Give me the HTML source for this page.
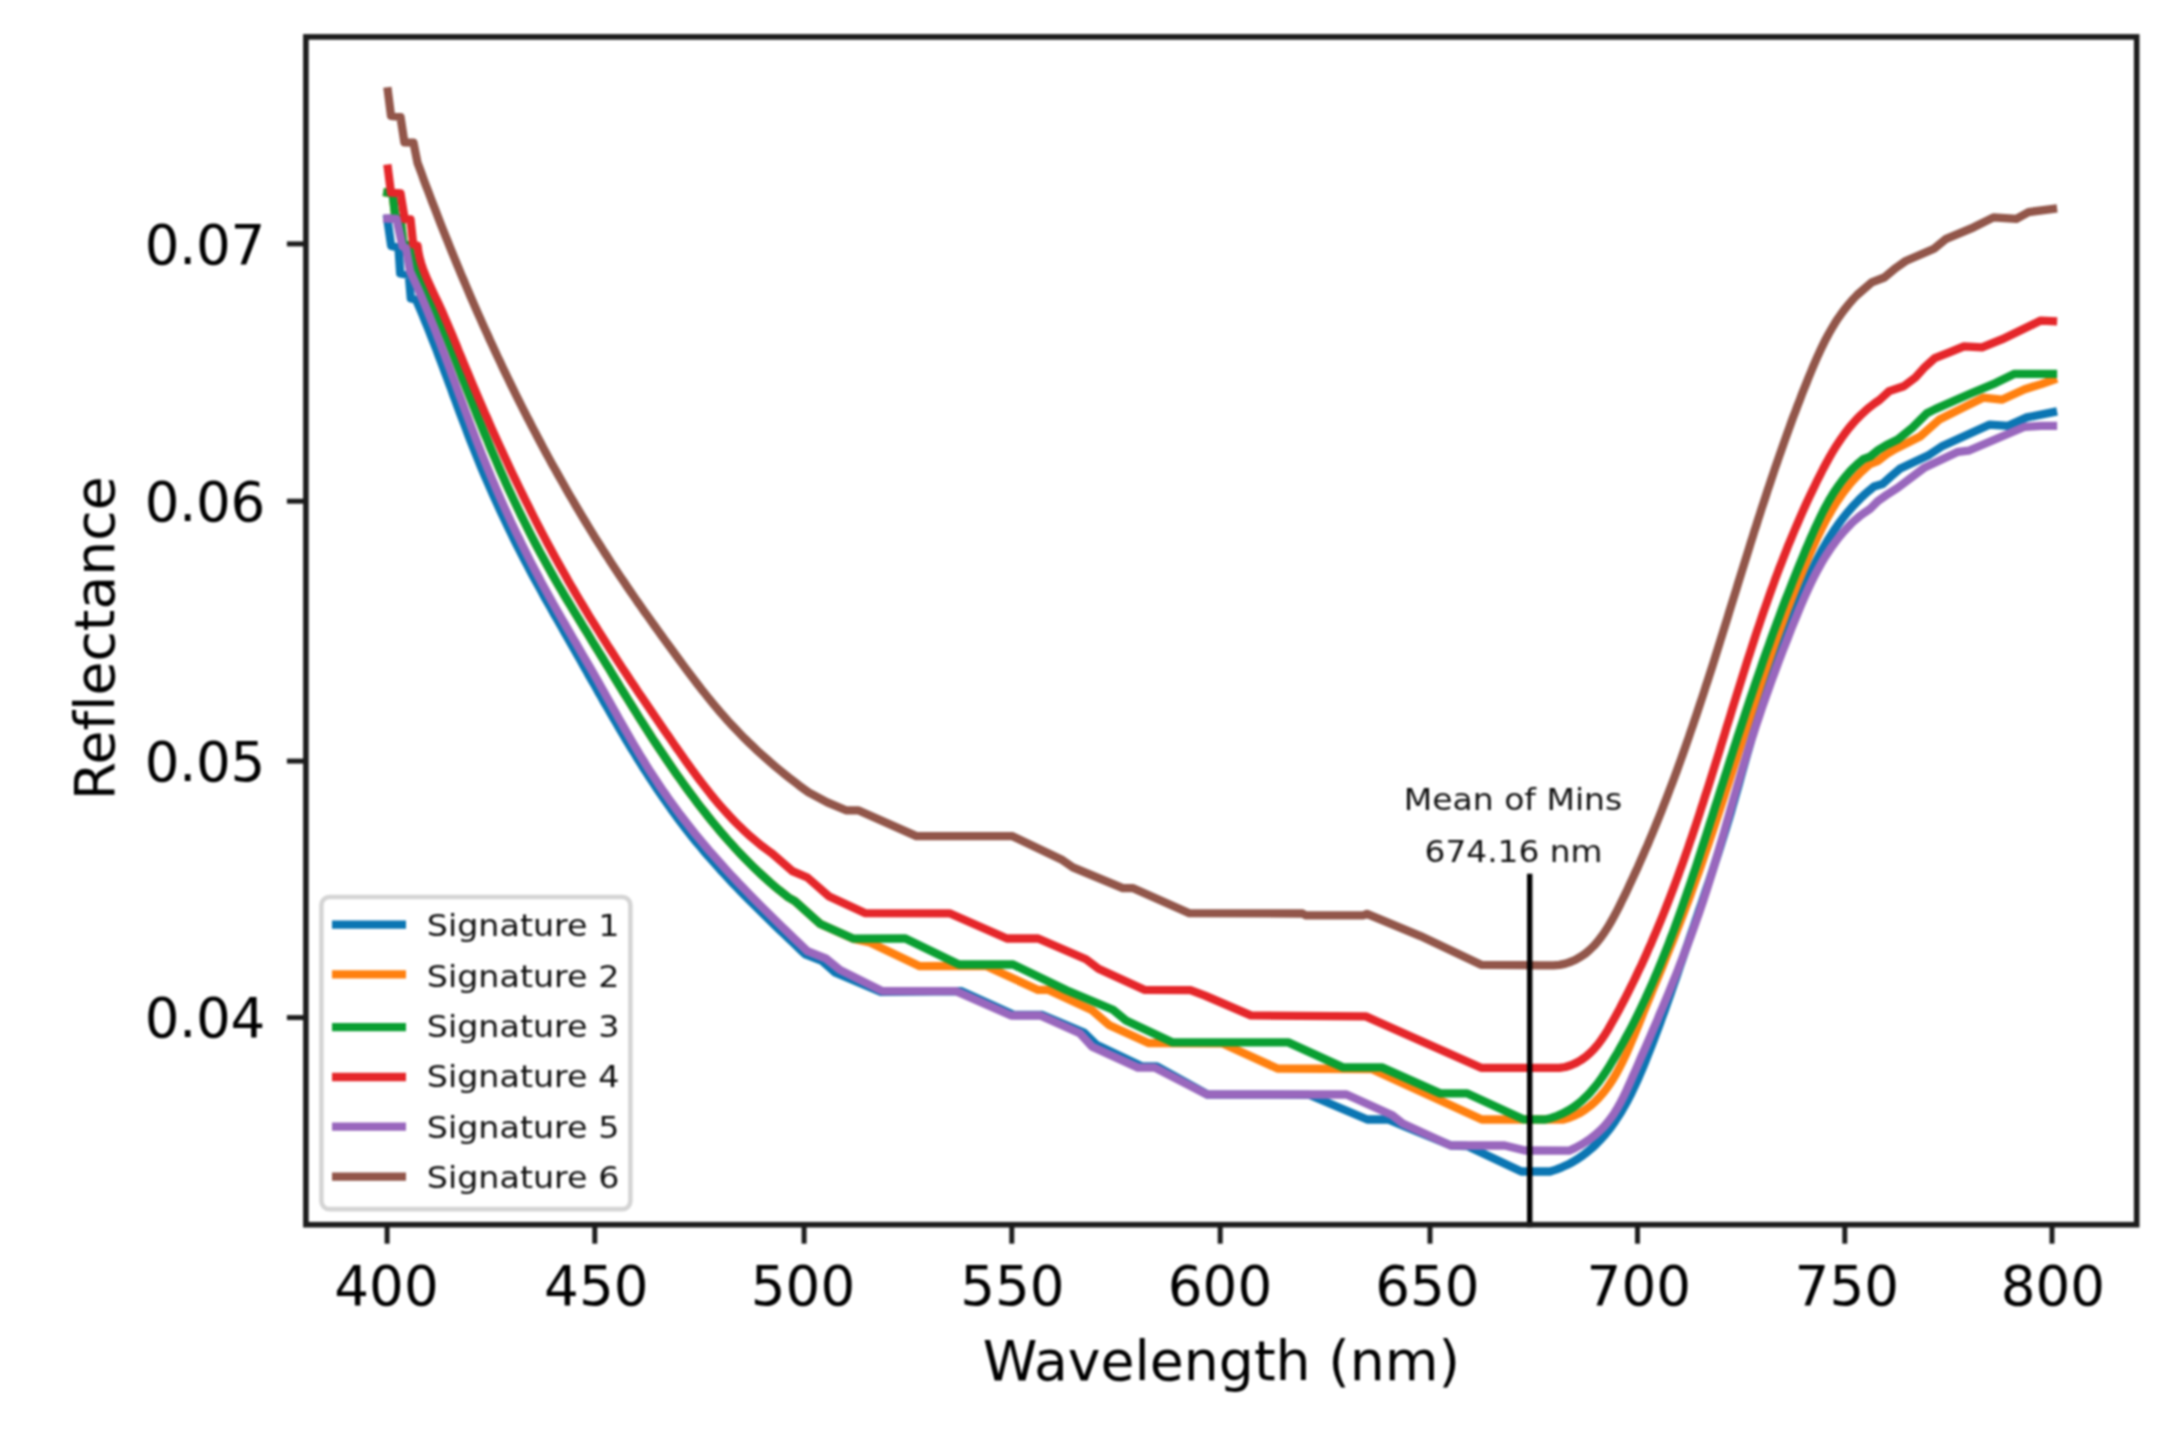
<!DOCTYPE html>
<html><head><meta charset="utf-8"><title>Reflectance signatures</title>
<style>html,body{margin:0;padding:0;background:#fff}svg text{font-family:"DejaVu Sans","Liberation Sans",sans-serif;font-variant-ligatures:none;font-feature-settings:'liga' 0,'clig' 0}</style>
</head><body>
<svg width="2178" height="1441" viewBox="0 0 2178 1441" style="display:block;filter:blur(0.9px)">
<rect width="2178" height="1441" fill="#fff"/>
<g fill="none" stroke-width="8.3" stroke-linecap="square" stroke-linejoin="round">
<polyline stroke="#0b76b3" points="387.3,219.0 391.2,246.0 398.5,247.5 400.2,273.5 408.8,275.0 410.8,298.5 416.0,299.5 418.4,305.0 420.7,310.5 423.1,316.1 425.3,321.6 427.6,327.2 429.8,332.8 432.0,338.4 434.2,344.0 436.4,349.6 438.5,355.2 440.7,360.9 442.8,366.5 444.9,372.2 447.0,377.8 449.1,383.5 451.2,389.1 453.2,394.8 455.3,400.4 457.4,406.1 459.5,411.7 461.6,417.3 463.8,423.0 465.9,428.6 468.0,434.2 470.2,439.9 472.4,445.5 474.6,451.1 476.9,456.7 479.1,462.2 481.4,467.8 483.7,473.3 486.1,478.9 488.5,484.4 490.9,489.9 493.3,495.4 495.8,500.9 498.3,506.4 500.8,511.8 503.4,517.3 506.0,522.7 508.6,528.1 511.2,533.5 513.8,538.9 516.5,544.3 519.2,549.6 522.0,555.0 524.7,560.3 527.5,565.7 530.3,571.0 533.1,576.3 536.0,581.6 538.9,586.8 541.8,592.1 544.7,597.4 547.6,602.6 550.6,607.8 553.5,613.1 556.5,618.3 559.5,623.5 562.5,628.7 565.4,634.0 568.4,639.2 571.4,644.4 574.4,649.6 577.4,654.9 580.3,660.1 583.3,665.4 586.3,670.6 589.2,675.9 592.2,681.1 595.2,686.3 598.1,691.6 601.1,696.8 604.1,702.1 607.1,707.3 610.1,712.5 613.1,717.7 616.2,722.9 619.2,728.1 622.3,733.3 625.3,738.5 628.4,743.6 631.5,748.8 634.7,753.9 637.8,759.0 641.0,764.1 644.2,769.2 647.5,774.2 650.7,779.3 654.0,784.3 657.4,789.3 660.7,794.2 664.1,799.2 667.6,804.1 671.0,809.0 674.5,813.8 678.1,818.7 681.7,823.5 685.3,828.2 689.0,832.9 692.7,837.6 696.5,842.3 700.4,846.9 704.2,851.5 708.1,856.1 712.1,860.6 716.1,865.1 720.1,869.6 724.2,874.0 728.3,878.4 732.4,882.8 736.6,887.2 740.8,891.5 745.0,895.8 749.2,900.1 753.5,904.4 757.8,908.6 762.1,912.9 766.4,917.1 770.7,921.3 775.0,925.5 779.4,929.7 783.7,933.8 788.1,938.0 792.4,942.1 796.8,946.3 801.1,950.4 805.5,954.5 822.0,961.0 835.0,972.5 881.0,991.8 961.0,991.1 1014.2,1015.0 1042.3,1015.0 1083.9,1032.5 1096.4,1044.7 1142.2,1066.5 1156.8,1066.5 1207.5,1094.5 1309.1,1094.8 1367.3,1119.5 1388.2,1119.5 1404.8,1126.5 1451.0,1145.5 1467.3,1146.0 1521.4,1171.5 1550.0,1171.5 1556.0,1169.6 1561.8,1167.3 1567.4,1164.8 1572.7,1162.0 1577.8,1158.9 1582.7,1155.5 1587.4,1151.9 1591.9,1148.1 1596.2,1144.1 1600.3,1139.9 1604.3,1135.5 1608.1,1130.9 1611.7,1126.2 1615.1,1121.3 1618.4,1116.3 1621.6,1111.2 1624.6,1106.0 1627.5,1100.7 1630.3,1095.4 1632.9,1089.9 1635.5,1084.5 1638.0,1079.0 1640.4,1073.4 1642.8,1067.8 1645.1,1062.2 1647.3,1056.6 1649.5,1051.0 1651.7,1045.4 1653.9,1039.7 1656.0,1034.1 1658.1,1028.5 1660.2,1022.8 1662.2,1017.2 1664.3,1011.5 1666.3,1005.9 1668.3,1000.2 1670.3,994.6 1672.2,988.9 1674.2,983.2 1676.2,977.6 1678.1,971.9 1680.0,966.2 1682.0,960.6 1683.9,954.9 1685.8,949.2 1687.8,943.5 1689.7,937.9 1691.6,932.2 1693.6,926.5 1695.5,920.8 1697.5,915.1 1699.4,909.4 1701.4,903.8 1703.3,898.1 1705.2,892.4 1707.1,886.7 1709.1,881.0 1711.0,875.3 1712.9,869.5 1714.7,863.8 1716.6,858.1 1718.5,852.4 1720.3,846.7 1722.1,840.9 1723.9,835.2 1725.7,829.4 1727.4,823.7 1729.2,817.9 1730.9,812.2 1732.5,806.4 1734.2,800.6 1735.8,794.8 1737.5,789.1 1739.1,783.3 1740.7,777.5 1742.3,771.7 1743.9,765.9 1745.5,760.1 1747.1,754.4 1748.8,748.6 1750.4,742.8 1752.0,737.0 1753.7,731.3 1755.3,725.5 1757.0,719.8 1758.7,714.0 1760.5,708.3 1762.2,702.6 1764.0,696.8 1765.9,691.1 1767.7,685.4 1769.6,679.8 1771.5,674.1 1773.5,668.4 1775.5,662.7 1777.5,657.1 1779.5,651.4 1781.6,645.7 1783.6,640.1 1785.7,634.4 1787.9,628.8 1790.0,623.1 1792.1,617.4 1794.3,611.8 1796.5,606.1 1798.8,600.5 1801.1,594.9 1803.4,589.2 1805.8,583.7 1808.2,578.1 1810.7,572.6 1813.3,567.2 1815.9,561.8 1818.7,556.4 1821.5,551.1 1824.4,545.9 1827.4,540.7 1830.6,535.7 1833.8,530.7 1837.2,525.8 1840.7,521.0 1844.3,516.3 1848.1,511.7 1852.0,507.2 1856.1,502.8 1860.3,498.5 1864.7,494.4 1869.3,490.4 1874.0,486.6 1882.4,484.1 1890.7,476.6 1899.8,468.8 1929.0,454.9 1941.5,446.6 1989.3,424.7 2008.1,425.8 2026.8,417.4 2053.0,412.2"/>
<polyline stroke="#ff800f" points="387.3,192.7 392.6,193.6 395.2,216.3 400.5,219.0 403.3,243.0 408.5,245.5 412.5,262.0 415.3,267.3 418.0,272.7 420.7,278.0 423.3,283.4 425.9,288.8 428.4,294.3 430.9,299.7 433.3,305.2 435.7,310.7 438.0,316.2 440.4,321.8 442.6,327.3 444.9,332.9 447.2,338.4 449.4,344.0 451.6,349.6 453.8,355.2 455.9,360.8 458.1,366.4 460.3,372.0 462.4,377.7 464.6,383.3 466.8,388.9 469.0,394.5 471.2,400.1 473.4,405.7 475.6,411.3 477.8,416.9 480.1,422.5 482.4,428.1 484.6,433.7 487.0,439.2 489.3,444.8 491.6,450.3 494.0,455.9 496.4,461.4 498.8,467.0 501.2,472.5 503.7,478.0 506.1,483.5 508.6,488.9 511.2,494.4 513.7,499.9 516.3,505.3 518.9,510.7 521.5,516.1 524.2,521.5 526.9,526.9 529.6,532.3 532.3,537.6 535.1,543.0 537.9,548.3 540.7,553.6 543.6,558.8 546.5,564.1 549.4,569.3 552.4,574.6 555.3,579.8 558.3,585.0 561.4,590.2 564.4,595.3 567.5,600.5 570.6,605.6 573.7,610.8 576.8,615.9 579.9,621.0 583.0,626.2 586.2,631.3 589.3,636.4 592.4,641.6 595.6,646.7 598.7,651.8 601.9,657.0 605.0,662.1 608.2,667.2 611.3,672.4 614.4,677.5 617.6,682.7 620.7,687.8 623.9,693.0 627.1,698.1 630.2,703.2 633.4,708.3 636.6,713.4 639.8,718.6 643.0,723.6 646.3,728.7 649.5,733.8 652.8,738.9 656.1,743.9 659.4,748.9 662.8,753.9 666.1,758.9 669.5,763.9 672.9,768.9 676.3,773.8 679.8,778.7 683.3,783.6 686.8,788.5 690.3,793.3 693.9,798.1 697.5,802.9 701.2,807.7 704.9,812.4 708.6,817.1 712.4,821.8 716.2,826.4 720.0,831.0 723.9,835.5 727.9,840.1 731.9,844.5 735.9,849.0 740.0,853.3 744.1,857.6 748.3,861.9 752.5,866.1 756.8,870.3 761.2,874.4 765.6,878.4 770.0,882.4 774.6,886.3 779.1,890.1 783.8,893.8 788.5,897.5 794.9,901.2 819.9,923.7 853.6,939.0 869.9,942.4 919.8,966.2 986.1,966.0 1038.1,989.9 1048.5,989.9 1092.2,1010.3 1108.9,1024.9 1148.4,1043.0 1222.0,1043.3 1277.5,1068.5 1371.5,1069.0 1481.8,1119.5 1563.3,1119.5 1569.4,1117.7 1575.1,1115.4 1580.4,1112.7 1585.4,1109.5 1590.1,1106.0 1594.6,1102.2 1598.7,1098.0 1602.6,1093.6 1606.3,1089.0 1609.7,1084.1 1613.0,1079.1 1616.1,1073.9 1619.0,1068.6 1621.8,1063.2 1624.4,1057.8 1627.0,1052.2 1629.4,1046.7 1631.8,1041.0 1634.2,1035.4 1636.5,1029.7 1638.8,1024.1 1641.1,1018.5 1643.3,1012.8 1645.6,1007.2 1647.9,1001.7 1650.2,996.1 1652.5,990.5 1654.8,985.0 1657.1,979.4 1659.4,973.8 1661.7,968.3 1664.0,962.7 1666.2,957.1 1668.5,951.5 1670.7,945.9 1673.0,940.3 1675.2,934.7 1677.4,929.1 1679.6,923.4 1681.8,917.8 1683.9,912.2 1686.0,906.5 1688.2,900.9 1690.3,895.2 1692.3,889.6 1694.4,883.9 1696.4,878.2 1698.5,872.5 1700.5,866.8 1702.5,861.1 1704.4,855.4 1706.4,849.7 1708.4,844.0 1710.3,838.3 1712.2,832.6 1714.1,826.9 1716.0,821.2 1717.9,815.4 1719.8,809.7 1721.7,804.0 1723.6,798.2 1725.4,792.5 1727.3,786.8 1729.2,781.0 1731.0,775.3 1732.9,769.5 1734.7,763.8 1736.6,758.1 1738.4,752.3 1740.3,746.6 1742.2,740.8 1744.0,735.1 1745.9,729.3 1747.8,723.6 1749.6,717.9 1751.5,712.1 1753.4,706.4 1755.3,700.6 1757.2,694.9 1759.1,689.2 1761.0,683.5 1763.0,677.7 1764.9,672.0 1766.9,666.3 1768.9,660.6 1770.9,654.9 1772.9,649.2 1774.9,643.5 1776.9,637.8 1779.0,632.1 1781.1,626.4 1783.2,620.7 1785.3,615.1 1787.4,609.4 1789.6,603.8 1791.8,598.1 1794.0,592.5 1796.2,586.8 1798.5,581.2 1800.8,575.6 1803.1,570.0 1805.5,564.4 1807.8,558.8 1810.2,553.2 1812.7,547.6 1815.2,542.1 1817.7,536.6 1820.4,531.1 1823.1,525.7 1825.9,520.4 1828.8,515.1 1831.8,509.9 1834.9,504.8 1838.2,499.8 1841.6,494.9 1845.1,490.1 1848.8,485.4 1852.6,480.9 1856.7,476.5 1860.9,472.2 1865.3,468.1 1869.9,464.1 1878.2,460.8 1886.5,454.2 1895.7,448.7 1920.6,436.2 1939.4,419.5 1960.2,409.1 1983.1,397.7 2001.8,399.7 2024.7,389.3 2041.4,384.1 2053.0,379.9"/>
<polyline stroke="#0a9f32" points="387.3,192.7 392.6,193.6 395.2,216.3 400.5,219.0 403.3,243.0 408.5,245.5 412.5,262.0 415.3,267.3 418.0,272.7 420.7,278.0 423.3,283.4 425.9,288.8 428.4,294.3 430.9,299.7 433.3,305.2 435.7,310.7 438.0,316.2 440.4,321.8 442.6,327.3 444.9,332.9 447.2,338.4 449.4,344.0 451.6,349.6 453.8,355.2 455.9,360.8 458.1,366.4 460.3,372.0 462.4,377.7 464.6,383.3 466.8,388.9 469.0,394.5 471.2,400.1 473.4,405.7 475.6,411.3 477.8,416.9 480.1,422.5 482.4,428.1 484.6,433.7 487.0,439.2 489.3,444.8 491.6,450.3 494.0,455.9 496.4,461.4 498.8,467.0 501.2,472.5 503.7,478.0 506.1,483.5 508.6,488.9 511.2,494.4 513.7,499.9 516.3,505.3 518.9,510.7 521.5,516.1 524.2,521.5 526.9,526.9 529.6,532.3 532.3,537.6 535.1,543.0 537.9,548.3 540.7,553.6 543.6,558.8 546.5,564.1 549.4,569.3 552.4,574.6 555.3,579.8 558.3,585.0 561.4,590.2 564.4,595.3 567.5,600.5 570.6,605.6 573.7,610.8 576.8,615.9 579.9,621.0 583.0,626.2 586.2,631.3 589.3,636.4 592.4,641.6 595.6,646.7 598.7,651.8 601.9,657.0 605.0,662.1 608.2,667.2 611.3,672.4 614.4,677.5 617.6,682.7 620.7,687.8 623.9,693.0 627.1,698.1 630.2,703.2 633.4,708.3 636.6,713.4 639.8,718.6 643.0,723.6 646.3,728.7 649.5,733.8 652.8,738.9 656.1,743.9 659.4,748.9 662.8,753.9 666.1,758.9 669.5,763.9 672.9,768.9 676.3,773.8 679.8,778.7 683.3,783.6 686.8,788.5 690.3,793.3 693.9,798.1 697.5,802.9 701.2,807.7 704.9,812.4 708.6,817.1 712.4,821.8 716.2,826.4 720.0,831.0 723.9,835.5 727.9,840.1 731.9,844.5 735.9,849.0 740.0,853.3 744.1,857.6 748.3,861.9 752.5,866.1 756.8,870.3 761.2,874.4 765.6,878.4 770.0,882.4 774.6,886.3 779.1,890.1 783.8,893.8 788.5,897.5 794.9,901.2 819.9,923.7 853.6,938.7 904.8,938.3 959.0,964.5 1013.1,964.5 1066.6,990.2 1113.0,1009.8 1126.0,1020.5 1172.8,1042.4 1288.2,1042.4 1343.0,1067.4 1381.9,1067.4 1440.2,1093.4 1467.3,1093.4 1523.3,1119.3 1545.0,1119.5 1551.3,1117.9 1557.3,1115.8 1562.9,1113.4 1568.2,1110.5 1573.3,1107.4 1578.0,1103.9 1582.5,1100.1 1586.7,1096.1 1590.7,1091.8 1594.6,1087.3 1598.2,1082.7 1601.7,1077.9 1605.1,1072.9 1608.4,1067.9 1611.5,1062.7 1614.6,1057.5 1617.7,1052.3 1620.6,1047.1 1623.6,1041.8 1626.4,1036.5 1629.3,1031.2 1632.1,1025.9 1634.8,1020.5 1637.5,1015.1 1640.1,1009.7 1642.7,1004.2 1645.3,998.8 1647.8,993.3 1650.3,987.8 1652.7,982.3 1655.1,976.7 1657.5,971.2 1659.8,965.6 1662.1,960.0 1664.3,954.4 1666.6,948.8 1668.8,943.2 1670.9,937.5 1673.1,931.9 1675.2,926.2 1677.3,920.5 1679.4,914.8 1681.4,909.1 1683.4,903.4 1685.4,897.7 1687.4,891.9 1689.4,886.2 1691.3,880.5 1693.2,874.7 1695.2,869.0 1697.1,863.2 1699.0,857.4 1700.8,851.7 1702.7,845.9 1704.6,840.1 1706.4,834.4 1708.3,828.6 1710.1,822.8 1712.0,817.1 1713.8,811.3 1715.6,805.5 1717.5,799.8 1719.3,794.0 1721.1,788.3 1723.0,782.5 1724.8,776.8 1726.7,771.0 1728.5,765.3 1730.3,759.5 1732.2,753.8 1734.0,748.1 1735.9,742.3 1737.7,736.6 1739.6,730.9 1741.5,725.1 1743.4,719.4 1745.2,713.7 1747.1,708.0 1749.0,702.3 1750.9,696.6 1752.9,690.8 1754.8,685.1 1756.7,679.5 1758.7,673.8 1760.7,668.1 1762.6,662.4 1764.6,656.7 1766.6,651.0 1768.7,645.4 1770.7,639.7 1772.7,634.0 1774.8,628.4 1776.9,622.7 1779.0,617.1 1781.1,611.4 1783.2,605.8 1785.4,600.1 1787.6,594.5 1789.8,588.9 1792.0,583.3 1794.2,577.7 1796.5,572.0 1798.8,566.4 1801.1,560.8 1803.4,555.3 1805.7,549.7 1808.1,544.1 1810.5,538.5 1813.0,532.9 1815.4,527.4 1818.0,521.9 1820.6,516.4 1823.3,511.0 1826.1,505.7 1829.0,500.5 1832.1,495.3 1835.3,490.3 1838.7,485.4 1842.2,480.6 1846.0,476.0 1849.9,471.5 1854.1,467.2 1858.5,463.1 1863.2,459.2 1869.9,456.7 1878.2,450.0 1886.5,445.0 1897.8,439.5 1912.3,427.8 1926.9,413.3 1935.2,409.1 1970.6,393.5 1995.6,383.1 2014.6,373.8 2053.0,373.8"/>
<polyline stroke="#e5262a" points="387.9,168.7 391.0,192.7 400.5,193.4 404.7,219.0 410.5,219.3 413.2,244.5 417.5,245.5 418.3,251.5 419.5,257.4 421.1,263.2 423.0,268.9 425.2,274.5 427.5,280.0 430.0,285.5 432.5,290.9 435.1,296.4 437.7,301.8 440.2,307.3 442.7,312.8 445.1,318.3 447.5,323.8 449.8,329.4 452.2,334.9 454.5,340.5 456.8,346.1 459.0,351.7 461.3,357.2 463.6,362.8 465.9,368.4 468.3,373.9 470.6,379.5 472.9,385.1 475.3,390.6 477.6,396.2 480.0,401.7 482.4,407.2 484.8,412.8 487.3,418.3 489.7,423.8 492.1,429.3 494.6,434.9 497.1,440.4 499.6,445.9 502.1,451.3 504.6,456.8 507.2,462.3 509.7,467.8 512.3,473.2 514.9,478.6 517.5,484.1 520.2,489.5 522.8,494.9 525.5,500.3 528.2,505.7 530.9,511.1 533.6,516.5 536.3,521.9 539.1,527.2 541.9,532.6 544.7,537.9 547.5,543.2 550.4,548.5 553.2,553.8 556.1,559.1 559.1,564.4 562.0,569.6 565.0,574.8 567.9,580.1 570.9,585.3 574.0,590.5 577.0,595.7 580.1,600.8 583.2,606.0 586.3,611.2 589.4,616.3 592.6,621.4 595.8,626.5 599.0,631.6 602.2,636.7 605.4,641.8 608.6,646.9 611.9,651.9 615.2,657.0 618.4,662.0 621.7,667.1 625.1,672.1 628.4,677.1 631.7,682.2 635.1,687.2 638.4,692.2 641.8,697.2 645.2,702.2 648.6,707.2 652.0,712.2 655.4,717.1 658.8,722.1 662.2,727.1 665.6,732.1 669.1,737.0 672.5,742.0 675.9,747.0 679.4,751.9 682.9,756.9 686.3,761.8 689.9,766.7 693.4,771.6 697.0,776.4 700.6,781.3 704.3,786.0 708.0,790.8 711.7,795.5 715.5,800.1 719.4,804.7 723.4,809.2 727.4,813.6 731.4,818.0 735.6,822.3 739.9,826.6 744.2,830.7 748.6,834.8 753.1,838.7 757.8,842.6 762.5,846.4 767.3,850.0 772.3,853.6 792.4,871.2 807.4,877.5 828.7,896.2 864.9,913.1 949.5,913.3 1006.9,938.5 1038.1,938.5 1086.0,959.3 1098.5,968.7 1144.3,989.8 1190.4,990.2 1205.0,995.6 1250.8,1015.4 1365.8,1016.4 1481.1,1067.8 1540.0,1067.9 1546.7,1067.9 1553.2,1067.9 1559.4,1067.9 1565.3,1067.0 1570.9,1065.2 1576.2,1062.9 1581.2,1060.0 1585.9,1056.7 1590.2,1052.9 1594.2,1048.8 1598.0,1044.4 1601.5,1039.6 1604.8,1034.7 1608.0,1029.6 1611.0,1024.3 1614.0,1019.0 1616.9,1013.7 1619.8,1008.4 1622.6,1003.0 1625.4,997.7 1628.1,992.3 1630.8,986.9 1633.5,981.5 1636.1,976.1 1638.7,970.6 1641.3,965.2 1643.8,959.7 1646.3,954.2 1648.7,948.7 1651.2,943.2 1653.5,937.7 1655.9,932.2 1658.2,926.6 1660.5,921.1 1662.8,915.5 1665.0,909.9 1667.2,904.4 1669.4,898.8 1671.6,893.1 1673.7,887.5 1675.8,881.9 1677.9,876.3 1679.9,870.6 1682.0,865.0 1684.0,859.3 1686.0,853.7 1688.0,848.0 1689.9,842.3 1691.9,836.6 1693.8,830.9 1695.7,825.2 1697.6,819.5 1699.5,813.8 1701.3,808.1 1703.2,802.4 1705.0,796.6 1706.9,790.9 1708.7,785.2 1710.5,779.4 1712.3,773.7 1714.1,768.0 1715.9,762.2 1717.7,756.5 1719.5,750.7 1721.2,745.0 1723.0,739.2 1724.8,733.5 1726.5,727.7 1728.3,722.0 1730.1,716.2 1731.8,710.5 1733.6,704.7 1735.4,699.0 1737.2,693.2 1739.0,687.5 1740.8,681.7 1742.6,676.0 1744.4,670.3 1746.2,664.5 1748.0,658.8 1749.9,653.1 1751.7,647.4 1753.6,641.6 1755.4,635.9 1757.3,630.2 1759.3,624.5 1761.2,618.8 1763.1,613.2 1765.1,607.5 1767.1,601.8 1769.1,596.1 1771.1,590.5 1773.2,584.9 1775.2,579.2 1777.3,573.6 1779.4,568.0 1781.6,562.4 1783.8,556.8 1786.0,551.2 1788.2,545.6 1790.5,540.1 1792.8,534.5 1795.1,529.0 1797.5,523.5 1799.9,517.9 1802.3,512.4 1804.7,507.0 1807.2,501.5 1809.8,496.0 1812.4,490.6 1815.0,485.2 1817.6,479.8 1820.4,474.4 1823.1,469.0 1825.9,463.7 1828.8,458.4 1831.8,453.2 1834.9,448.1 1838.2,443.0 1841.5,438.1 1845.0,433.3 1848.6,428.5 1852.4,424.0 1856.4,419.5 1860.6,415.3 1865.0,411.2 1869.6,407.2 1874.4,403.5 1879.5,400.0 1889.2,391.1 1903.8,386.3 1915.4,377.5 1925.1,366.8 1934.8,358.1 1949.4,352.3 1964.0,346.4 1982.0,347.4 2001.8,339.4 2040.8,320.6 2053.0,321.2"/>
<polyline stroke="#9967bd" points="387.3,218.5 396.5,219.0 402.6,246.5 406.0,248.0 410.0,271.0 412.5,276.5 415.0,282.0 417.5,287.5 419.9,293.0 422.3,298.6 424.6,304.1 426.9,309.7 429.2,315.3 431.4,320.9 433.7,326.5 435.9,332.1 438.0,337.7 440.2,343.3 442.3,349.0 444.5,354.6 446.6,360.2 448.7,365.9 450.8,371.5 452.9,377.2 455.0,382.8 457.0,388.5 459.1,394.2 461.2,399.8 463.3,405.5 465.4,411.1 467.5,416.8 469.6,422.4 471.7,428.0 473.9,433.7 476.0,439.3 478.2,444.9 480.4,450.5 482.6,456.2 484.9,461.7 487.2,467.3 489.5,472.9 491.8,478.5 494.2,484.0 496.6,489.6 499.0,495.1 501.4,500.6 503.9,506.1 506.4,511.6 508.9,517.1 511.4,522.6 514.0,528.0 516.6,533.5 519.3,538.9 521.9,544.3 524.6,549.7 527.3,555.1 530.0,560.5 532.8,565.9 535.6,571.2 538.4,576.5 541.2,581.9 544.1,587.2 547.0,592.4 549.9,597.7 552.8,603.0 555.8,608.2 558.8,613.5 561.8,618.7 564.8,623.9 567.8,629.1 570.8,634.3 573.8,639.5 576.9,644.7 579.9,650.0 582.9,655.2 585.9,660.4 589.0,665.6 592.0,670.8 595.0,676.0 598.0,681.3 600.9,686.5 603.9,691.8 606.8,697.0 609.8,702.3 612.7,707.5 615.7,712.8 618.6,718.1 621.6,723.3 624.6,728.6 627.6,733.8 630.6,739.0 633.6,744.2 636.7,749.4 639.8,754.6 643.0,759.7 646.1,764.9 649.3,770.0 652.6,775.0 655.9,780.1 659.2,785.1 662.6,790.1 666.1,795.0 669.5,800.0 673.1,804.9 676.6,809.7 680.2,814.6 683.9,819.4 687.5,824.1 691.3,828.9 695.0,833.6 698.8,838.2 702.7,842.9 706.6,847.5 710.5,852.1 714.5,856.6 718.5,861.1 722.5,865.6 726.5,870.0 730.6,874.5 734.8,878.9 738.9,883.3 743.1,887.6 747.3,892.0 751.5,896.3 755.7,900.6 759.9,904.9 764.2,909.1 768.5,913.4 772.8,917.6 777.1,921.9 781.4,926.1 785.7,930.3 790.1,934.5 794.4,938.7 798.7,942.8 803.1,947.0 807.4,951.2 826.2,958.7 839.9,969.9 882.4,991.1 956.0,991.1 1011.1,1015.5 1040.2,1015.5 1079.8,1033.2 1092.2,1046.8 1138.0,1067.6 1154.7,1067.6 1207.1,1094.5 1346.5,1094.5 1392.3,1115.3 1402.7,1123.6 1450.6,1145.5 1504.7,1145.5 1525.0,1150.5 1569.1,1150.7 1574.8,1148.1 1580.3,1145.2 1585.5,1142.0 1590.5,1138.6 1595.3,1134.9 1599.7,1130.9 1603.9,1126.7 1607.7,1122.3 1611.3,1117.6 1614.6,1112.7 1617.7,1107.6 1620.6,1102.4 1623.3,1097.1 1625.9,1091.7 1628.4,1086.2 1630.9,1080.7 1633.3,1075.1 1635.8,1069.6 1638.2,1064.1 1640.6,1058.5 1643.0,1053.0 1645.5,1047.5 1647.9,1041.9 1650.3,1036.4 1652.6,1030.8 1655.0,1025.3 1657.4,1019.8 1659.7,1014.2 1662.1,1008.7 1664.4,1003.1 1666.7,997.6 1669.0,992.0 1671.3,986.4 1673.5,980.9 1675.8,975.3 1678.0,969.7 1680.2,964.1 1682.4,958.5 1684.5,952.9 1686.6,947.3 1688.7,941.6 1690.8,936.0 1692.9,930.4 1694.9,924.7 1696.9,919.0 1698.9,913.4 1700.8,907.7 1702.8,902.0 1704.6,896.3 1706.5,890.5 1708.3,884.8 1710.1,879.1 1711.9,873.3 1713.7,867.5 1715.4,861.8 1717.1,856.0 1718.8,850.2 1720.5,844.4 1722.2,838.6 1723.9,832.8 1725.5,827.0 1727.2,821.2 1728.9,815.5 1730.5,809.7 1732.2,803.9 1733.8,798.1 1735.5,792.3 1737.2,786.5 1738.9,780.8 1740.6,775.0 1742.3,769.2 1744.0,763.5 1745.8,757.8 1747.5,752.0 1749.3,746.3 1751.1,740.6 1753.0,734.9 1754.8,729.2 1756.7,723.5 1758.6,717.9 1760.5,712.2 1762.4,706.5 1764.4,700.9 1766.4,695.2 1768.4,689.6 1770.4,683.9 1772.4,678.3 1774.5,672.7 1776.6,667.0 1778.7,661.4 1780.8,655.8 1783.0,650.1 1785.2,644.5 1787.4,638.9 1789.6,633.2 1791.8,627.6 1794.1,621.9 1796.4,616.3 1798.7,610.7 1801.1,605.0 1803.5,599.4 1805.9,593.9 1808.5,588.3 1811.1,582.8 1813.7,577.4 1816.5,572.0 1819.4,566.7 1822.3,561.5 1825.4,556.4 1828.7,551.4 1832.0,546.4 1835.5,541.7 1839.1,537.0 1842.9,532.5 1846.9,528.1 1851.0,523.8 1855.4,519.8 1859.9,516.0 1864.8,512.4 1869.9,509.1 1878.2,500.8 1886.5,495.0 1897.8,487.8 1924.8,467.4 1958.1,451.8 1968.5,450.7 2024.7,426.8 2041.4,425.8 2053.0,425.8"/>
<polyline stroke="#92564a" points="387.9,91.4 391.0,115.8 400.5,117.0 404.4,142.3 413.5,142.7 417.5,162.7 419.6,168.3 421.7,173.9 423.7,179.6 425.8,185.2 428.0,190.8 430.1,196.4 432.2,202.0 434.4,207.6 436.6,213.2 438.7,218.8 440.9,224.4 443.1,230.0 445.3,235.6 447.6,241.1 449.8,246.7 452.1,252.3 454.3,257.8 456.6,263.4 458.9,268.9 461.2,274.5 463.6,280.0 465.9,285.5 468.3,291.1 470.6,296.6 473.0,302.1 475.4,307.6 477.8,313.1 480.3,318.6 482.7,324.1 485.2,329.6 487.7,335.0 490.1,340.5 492.7,346.0 495.2,351.4 497.7,356.9 500.3,362.3 502.8,367.7 505.4,373.1 508.0,378.5 510.6,383.9 513.3,389.3 515.9,394.7 518.6,400.1 521.3,405.5 524.0,410.8 526.7,416.2 529.5,421.5 532.2,426.8 535.0,432.2 537.8,437.5 540.6,442.8 543.4,448.1 546.3,453.4 549.1,458.6 552.0,463.9 554.9,469.1 557.9,474.4 560.8,479.6 563.8,484.8 566.7,490.0 569.7,495.2 572.8,500.4 575.8,505.6 578.8,510.7 581.9,515.9 585.0,521.0 588.1,526.1 591.3,531.3 594.4,536.4 597.6,541.4 600.8,546.5 604.0,551.6 607.3,556.6 610.5,561.7 613.8,566.7 617.1,571.7 620.4,576.7 623.8,581.7 627.1,586.6 630.5,591.6 633.9,596.5 637.3,601.5 640.8,606.4 644.2,611.3 647.7,616.2 651.2,621.1 654.7,626.0 658.2,630.9 661.7,635.7 665.2,640.6 668.8,645.5 672.3,650.3 675.9,655.2 679.4,660.0 683.0,664.9 686.6,669.7 690.2,674.5 693.8,679.3 697.5,684.1 701.1,688.8 704.9,693.5 708.6,698.2 712.4,702.8 716.2,707.4 720.1,712.0 724.1,716.5 728.0,721.0 732.1,725.4 736.2,729.7 740.3,734.0 744.5,738.3 748.8,742.5 753.1,746.6 757.4,750.7 761.9,754.8 766.3,758.7 770.8,762.7 775.4,766.6 780.0,770.4 784.7,774.2 789.4,777.9 794.1,781.6 798.9,785.3 803.7,788.8 808.6,792.4 827.3,802.4 846.0,810.3 858.1,810.3 916.4,836.1 1012.5,836.2 1062.4,860.1 1072.9,867.4 1122.8,888.2 1133.2,888.2 1189.4,913.2 1302.5,913.5 1305.5,915.3 1363.5,915.3 1367.0,913.8 1420.5,936.1 1481.1,964.8 1540.0,965.3 1546.9,965.4 1553.5,965.4 1559.6,964.9 1565.5,963.6 1570.9,961.8 1576.1,959.4 1580.9,956.7 1585.5,953.5 1589.7,949.9 1593.8,945.9 1597.5,941.7 1601.1,937.1 1604.5,932.3 1607.8,927.3 1610.8,922.1 1613.8,916.8 1616.7,911.4 1619.5,905.9 1622.2,900.3 1624.9,894.8 1627.6,889.2 1630.2,883.6 1632.8,878.1 1635.3,872.5 1637.9,866.9 1640.3,861.3 1642.8,855.7 1645.2,850.2 1647.7,844.6 1650.0,839.0 1652.4,833.4 1654.7,827.7 1657.0,822.1 1659.3,816.5 1661.5,810.9 1663.7,805.3 1665.9,799.7 1668.1,794.0 1670.2,788.4 1672.4,782.7 1674.5,777.1 1676.6,771.5 1678.6,765.8 1680.7,760.1 1682.7,754.5 1684.7,748.8 1686.7,743.2 1688.7,737.5 1690.6,731.8 1692.6,726.1 1694.5,720.4 1696.4,714.8 1698.3,709.1 1700.2,703.4 1702.1,697.7 1704.0,692.0 1705.8,686.3 1707.7,680.6 1709.5,674.9 1711.4,669.1 1713.2,663.4 1715.0,657.7 1716.8,652.0 1718.6,646.2 1720.4,640.5 1722.2,634.8 1724.0,629.0 1725.8,623.3 1727.6,617.5 1729.3,611.8 1731.1,606.0 1732.9,600.3 1734.7,594.5 1736.5,588.8 1738.2,583.0 1740.0,577.2 1741.8,571.5 1743.6,565.7 1745.4,559.9 1747.2,554.2 1749.0,548.4 1750.8,542.6 1752.6,536.9 1754.4,531.1 1756.3,525.4 1758.1,519.6 1760.0,513.8 1761.8,508.1 1763.7,502.4 1765.6,496.6 1767.4,490.9 1769.4,485.1 1771.3,479.4 1773.2,473.7 1775.1,468.0 1777.1,462.3 1779.1,456.5 1781.1,450.8 1783.1,445.2 1785.1,439.5 1787.1,433.8 1789.2,428.1 1791.2,422.5 1793.3,416.8 1795.5,411.2 1797.6,405.5 1799.8,399.9 1801.9,394.3 1804.1,388.7 1806.4,383.1 1808.6,377.5 1810.9,372.0 1813.2,366.4 1815.6,360.9 1818.0,355.4 1820.5,350.0 1823.1,344.6 1825.8,339.2 1828.6,334.0 1831.6,328.8 1834.7,323.6 1837.9,318.6 1841.4,313.7 1845.0,308.8 1848.8,304.1 1852.8,299.5 1857.1,295.0 1871.7,282.3 1884.3,277.5 1896.0,267.8 1905.7,261.0 1934.0,248.7 1946.2,238.8 1973.7,227.3 1993.5,217.4 2016.4,218.9 2028.6,212.1 2053.0,209.0"/>
</g>
<line x1="1529.7" y1="873.8" x2="1529.7" y2="1227.2" stroke="#000" stroke-width="5.4"/>
<rect x="321.4" y="897" width="309.0" height="312.0999999999999" rx="8" ry="8" fill="#fff" fill-opacity="0.8" stroke="#d4d4d4" stroke-width="4.6"/>
<line x1="332" y1="924.7" x2="406" y2="924.7" stroke="#0b76b3" stroke-width="8.3"/>
<text transform="translate(426.8,936.4) scale(1,0.92)" font-size="33.33" fill="#111">Signature 1</text>
<line x1="332" y1="974.4" x2="406" y2="974.4" stroke="#ff800f" stroke-width="8.3"/>
<text transform="translate(426.8,986.7) scale(1,0.92)" font-size="33.33" fill="#111">Signature 2</text>
<line x1="332" y1="1027.1" x2="406" y2="1027.1" stroke="#0a9f32" stroke-width="8.3"/>
<text transform="translate(426.8,1037.0) scale(1,0.92)" font-size="33.33" fill="#111">Signature 3</text>
<line x1="332" y1="1077.0" x2="406" y2="1077.0" stroke="#e5262a" stroke-width="8.3"/>
<text transform="translate(426.8,1087.4) scale(1,0.92)" font-size="33.33" fill="#111">Signature 4</text>
<line x1="332" y1="1126.7" x2="406" y2="1126.7" stroke="#9967bd" stroke-width="8.3"/>
<text transform="translate(426.8,1137.7) scale(1,0.92)" font-size="33.33" fill="#111">Signature 5</text>
<line x1="332" y1="1176.6" x2="406" y2="1176.6" stroke="#92564a" stroke-width="8.3"/>
<text transform="translate(426.8,1188.0) scale(1,0.92)" font-size="33.33" fill="#111">Signature 6</text>
<text transform="translate(1513,810.3) scale(1,0.92)" font-size="33" text-anchor="middle" fill="#111">Mean of Mins</text>
<text transform="translate(1513.5,862.3) scale(1,0.92)" font-size="32.8" text-anchor="middle" fill="#111">674.16 nm</text>
<rect x="305.9" y="36.9" width="1830.7999999999997" height="1187.8" fill="none" stroke="#1c1c1c" stroke-width="5.6"/>
<line x1="387.1" y1="1224.7" x2="387.1" y2="1243.7" stroke="#1c1c1c" stroke-width="5"/>
<text x="386.5" y="1305.3" font-size="54.7" text-anchor="middle" fill="#000">400</text>
<line x1="594.8" y1="1224.7" x2="594.8" y2="1243.7" stroke="#1c1c1c" stroke-width="5"/>
<text x="596.3" y="1305.3" font-size="54.7" text-anchor="middle" fill="#000">450</text>
<line x1="804.1" y1="1224.7" x2="804.1" y2="1243.7" stroke="#1c1c1c" stroke-width="5"/>
<text x="803" y="1305.3" font-size="54.7" text-anchor="middle" fill="#000">500</text>
<line x1="1011.8" y1="1224.7" x2="1011.8" y2="1243.7" stroke="#1c1c1c" stroke-width="5"/>
<text x="1012.4" y="1305.3" font-size="54.7" text-anchor="middle" fill="#000">550</text>
<line x1="1220.2" y1="1224.7" x2="1220.2" y2="1243.7" stroke="#1c1c1c" stroke-width="5"/>
<text x="1220" y="1305.3" font-size="54.7" text-anchor="middle" fill="#000">600</text>
<line x1="1430.0" y1="1224.7" x2="1430.0" y2="1243.7" stroke="#1c1c1c" stroke-width="5"/>
<text x="1427.4" y="1305.3" font-size="54.7" text-anchor="middle" fill="#000">650</text>
<line x1="1637.5" y1="1224.7" x2="1637.5" y2="1243.7" stroke="#1c1c1c" stroke-width="5"/>
<text x="1638.8" y="1305.3" font-size="54.7" text-anchor="middle" fill="#000">700</text>
<line x1="1844.8" y1="1224.7" x2="1844.8" y2="1243.7" stroke="#1c1c1c" stroke-width="5"/>
<text x="1846.8" y="1305.3" font-size="54.7" text-anchor="middle" fill="#000">750</text>
<line x1="2052.0" y1="1224.7" x2="2052.0" y2="1243.7" stroke="#1c1c1c" stroke-width="5"/>
<text x="2052.9" y="1305.3" font-size="54.7" text-anchor="middle" fill="#000">800</text>
<line x1="286.9" y1="243.9" x2="305.9" y2="243.9" stroke="#1c1c1c" stroke-width="5"/>
<text x="264.8" y="263.5" font-size="54.7" text-anchor="end" letter-spacing="-0.4" fill="#000">0.07</text>
<line x1="286.9" y1="501.2" x2="305.9" y2="501.2" stroke="#1c1c1c" stroke-width="5"/>
<text x="264.8" y="520.8" font-size="54.7" text-anchor="end" letter-spacing="-0.4" fill="#000">0.06</text>
<line x1="286.9" y1="761.1" x2="305.9" y2="761.1" stroke="#1c1c1c" stroke-width="5"/>
<text x="264.8" y="780.7" font-size="54.7" text-anchor="end" letter-spacing="-0.4" fill="#000">0.05</text>
<line x1="286.9" y1="1017.6" x2="305.9" y2="1017.6" stroke="#1c1c1c" stroke-width="5"/>
<text x="264.8" y="1037.2" font-size="54.7" text-anchor="end" letter-spacing="-0.4" fill="#000">0.04</text>
<text x="1221.5" y="1379.8" font-size="55.25" text-anchor="middle" fill="#000">Wavelength (nm)</text>
<text transform="translate(114.3,638.3) rotate(-90)" font-size="55.25" text-anchor="middle" fill="#000">Reflectance</text>
</svg>
</body></html>
